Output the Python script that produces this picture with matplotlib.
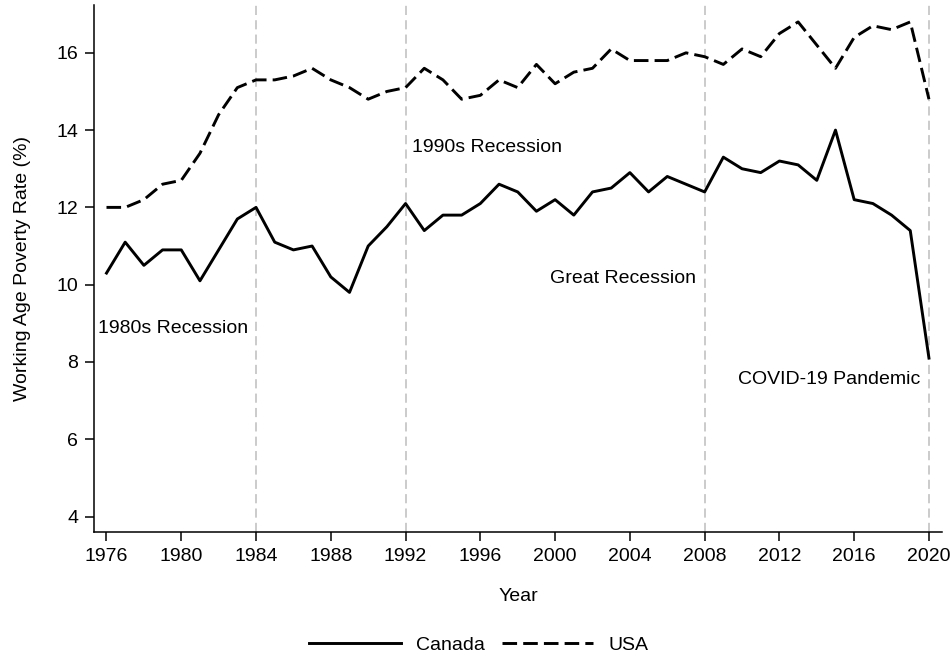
import numpy as np
import matplotlib
matplotlib.use("Agg")
import matplotlib.pyplot as plt

# ---------- DATA ----------
years = list(range(1976, 2021))
canada = [10.3, 11.1, 10.5, 10.9, 10.9, 10.1, 10.9, 11.7, 12.0, 11.1,
          10.9, 11.0, 10.2, 9.8, 11.0, 11.5, 12.1, 11.4, 11.8, 11.8,
          12.1, 12.6, 12.4, 11.9, 12.2, 11.8, 12.4, 12.5, 12.9, 12.4,
          12.8, 12.6, 12.4, 13.3, 13.0, 12.9, 13.2, 13.1, 12.7, 14.0,
          12.2, 12.1, 11.8, 11.4, 8.1]
usa = [12.0, 12.0, 12.2, 12.6, 12.7, 13.4, 14.4, 15.1, 15.3, 15.3,
       15.4, 15.6, 15.3, 15.1, 14.8, 15.0, 15.1, 15.6, 15.3, 14.8,
       14.9, 15.3, 15.1, 15.7, 15.2, 15.5, 15.6, 16.1, 15.8, 15.8,
       15.8, 16.0, 15.9, 15.7, 16.1, 15.9, 16.5, 16.8, 16.2, 15.6,
       16.4, 16.7, 16.6, 16.8, 14.8]

event_years = [1984, 1992, 2008, 2020]
event_labels = ["1980s Recession", "1990s Recession", "Great Recession", "COVID-19 Pandemic"]
label_pos = [(1975.52, 8.86), (1992.33, 13.54), (1999.7, 10.15), (2009.78, 7.54)]

x_ticks = list(range(1976, 2021, 4))
y_ticks = [4, 6, 8, 10, 12, 14, 16]
# ---------------------------

FS = 14
plt.rcParams["font.family"] = ["Liberation Sans", "DejaVu Sans"]
plt.rcParams["font.size"] = FS

fig = plt.figure(figsize=(9.53, 6.56), dpi=100)
ax = fig.add_axes([0.0990, 0.1885, 0.8895, 0.804])

# event markers
for yr in event_years:
    ax.axvline(yr, color="#bdbdbd", lw=1.1, dashes=(6, 3.4), zorder=1)

ax.plot(years, canada, color="black", lw=2.1, label="Canada", zorder=3)
ax.plot(years, usa, color="black", lw=2.1, dashes=(5, 2.1), label="USA", zorder=3)

for txt, (xx, yy) in zip(event_labels, label_pos):
    ax.text(xx, yy, txt, fontsize=FS, ha="left", va="center")

ax.set_xlim(1975.35, 2020.7)
ax.set_ylim(3.59, 17.24)
ax.set_xticks(x_ticks)
ax.set_yticks(y_ticks)
ax.tick_params(direction="out", length=6.5, width=1.1, labelsize=FS, pad=5)

for side in ["top", "right"]:
    ax.spines[side].set_visible(False)
for side in ["left", "bottom"]:
    ax.spines[side].set_linewidth(1.1)

ax.set_xlabel("Year", fontsize=FS, labelpad=16)
ax.set_ylabel("Working Age Poverty Rate (%)", fontsize=FS, labelpad=18)

fig.legend(loc="lower center", bbox_to_anchor=(0.5026, -0.023), ncol=2, frameon=False,
           handlelength=4.7, handletextpad=0.8, columnspacing=0.85, fontsize=FS)

fig.savefig("out.png", dpi=100)
